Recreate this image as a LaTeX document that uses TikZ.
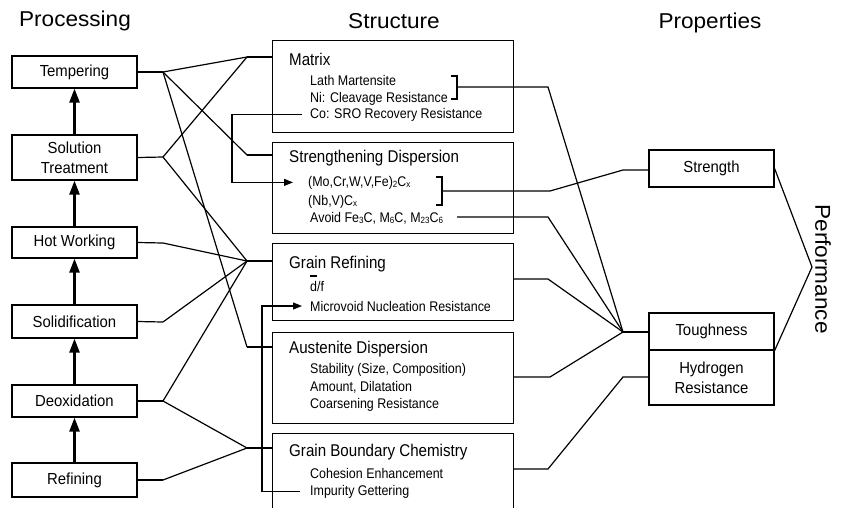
\documentclass[tikz,border=0pt]{standalone}
\usepackage{fontspec}
\setmainfont{Liberation Sans}
\newfontfamily\boxfont{Liberation Sans}[FakeStretch=0.93]
\newfontfamily\strfont{Liberation Sans}[FakeStretch=0.89]
\newfontfamily\headfont{Liberation Sans}[FakeStretch=1.05]
\usetikzlibrary{arrows.meta}
% small lowered indices for chemical formulae
\newcommand\lowsub[1]{\raisebox{-1.5pt}{\fontsize{9}{9}\selectfont #1}}

\begin{document}
\begin{tikzpicture}[x=1pt,y=-1pt,
  conn/.style={line width=1.2pt},
  flowarrow/.style={line width=2.4pt,-{Triangle[length=14pt,width=10pt]}},
  thinarrow/.style={line width=1.2pt,-{Triangle[length=9pt,width=7pt]}},
  heading/.style={anchor=base,inner sep=0pt,font={\headfont\fontsize{21.5}{24}\selectfont}},
  procbox/.style={draw,line width=1.2pt,minimum width=125pt,inner sep=0pt,align=center,
    font={\boxfont\fontsize{16}{20}\selectfont}},
  structbox/.style={draw,line width=1.2pt,minimum width=241pt,inner sep=0pt,anchor=north west},
  sttitle/.style={anchor=base west,inner sep=0pt,font={\strfont\fontsize{17}{20}\selectfont}},
  stitem/.style={anchor=base west,inner sep=0pt,font={\strfont\fontsize{14}{17}\selectfont}}]

\useasboundingbox (0,0) rectangle (843,507);
\clip (0,0) rectangle (843,507);
\fill[white] (0,0) rectangle (843,507);

% column headings
\node[heading] (hproc) at (75,26) {Processing};
\node[heading] (hstr) at (394,28) {Structure};
\node[heading] (hprop) at (710,28) {Properties};
\node[heading,anchor=center,rotate=-90] (hperf) at (823,269) {Performance};

% processing chain
\node[procbox,minimum height=32pt] (temp) at (74.5,72) {Tempering};
\node[procbox,minimum height=45pt] (sol) at (74.5,157.5) {Solution\\Treatment};
\node[procbox,minimum height=31pt] (hot) at (74.5,242.5) {Hot Working};
\node[procbox,minimum height=33pt] (solid) at (74.5,321.5) {Solidification};
\node[procbox,minimum height=32pt] (deox) at (74.5,401) {Deoxidation};
\node[procbox,minimum height=34pt] (ref) at (74.5,480) {Refining};

\draw[flowarrow] (sol.north) -- (temp.south);
\draw[flowarrow] (hot.north) -- (sol.south);
\draw[flowarrow] (solid.north) -- (hot.south);
\draw[flowarrow] (deox.north) -- (solid.south);
\draw[flowarrow] (ref.north) -- (deox.south);

% structure boxes
\node[structbox,minimum height=92pt] (matrix) at (272,40) {};
\node[structbox,minimum height=91pt] (sdisp) at (272,142) {};
\node[structbox,minimum height=77pt] (grain) at (272,243) {};
\node[structbox,minimum height=91pt] (adisp) at (272,332) {};
\node[structbox,minimum height=80pt] (gbc) at (272,433) {};

\node[sttitle] (tmat) at (289,65) {Matrix};
\node[stitem] (lath) at (310,85) {Lath Martensite};
\node[stitem] (ni) at (310,102) {Ni: Cleavage Resistance};
\node[stitem] (co) at (310,118) {Co: SRO Recovery Resistance};

\node[sttitle] (tsd) at (289,162) {Strengthening Dispersion};
\node[stitem] (mo) at (308,186) {(Mo,Cr,W,V,Fe)\lowsub{2}C\lowsub{x}};
\node[stitem] (nb) at (308,205) {(Nb,V)C\lowsub{x}};
\node[stitem] (avoid) at (310,222) {Avoid Fe\lowsub{3}C, M\lowsub{6}C, M\lowsub{23}C\lowsub{6}};

\node[sttitle] (tgr) at (289,268) {Grain Refining};
\node[stitem] (dfr) at (310,291) {\makebox[0pt][l]{\raisebox{14.5pt}{\rule{6.8pt}{1.2pt}}}d/f};
\node[stitem] (micro) at (310,311) {Microvoid Nucleation Resistance};

\node[sttitle] (tad) at (289,353) {Austenite Dispersion};
\node[stitem] (stab) at (310,373) {Stability (Size, Composition)};
\node[stitem] (amount) at (310,391) {Amount, Dilatation};
\node[stitem] (coars) at (310,408) {Coarsening Resistance};

\node[sttitle] (tgb) at (289,456) {Grain Boundary Chemistry};
\node[stitem] (coh) at (310,478) {Cohesion Enhancement};
\node[stitem] (imp) at (310,495) {Impurity Gettering};

% property boxes
\node[procbox,minimum height=37pt] (strength) at (711.5,168.5) {Strength};
\node[procbox,minimum height=37pt] (tough) at (711.5,331.5) {Toughness};
\node[procbox,minimum height=55pt] (hydro) at (711.5,377.5) {Hydrogen\\Resistance};

% junction points, processing to structure
\coordinate (tf) at (163,72);
\coordinate (sf) at (163,157);
\coordinate (hf) at (163,243);
\coordinate (lf) at (163,322);
\coordinate (df) at (163,401);
\coordinate (rf) at (163,480);
\coordinate (mxf) at (247,57);
\coordinate (sdf) at (247,155);
\coordinate (grf) at (247,261);
\coordinate (adf) at (247,347);
\coordinate (gbf) at (247,448);

\draw[conn] (temp.east) -- (tf);
\draw[conn] (sol.east) -- (sf);
\draw[conn] (hot.east) -- (hf);
\draw[conn] (solid.east) -- (lf);
\draw[conn] (deox.east) -- (df);
\draw[conn] (ref.east) -- (rf);

\draw[conn] (tf) -- (mxf);
\draw[conn] (tf) -- (sdf);
\draw[conn] (tf) -- (adf);
\draw[conn] (sf) -- (mxf);
\draw[conn] (sf) -- (grf);
\draw[conn] (hf) -- (grf);
\draw[conn] (lf) -- (grf);
\draw[conn] (df) -- (grf);
\draw[conn] (df) -- (gbf);
\draw[conn] (rf) -- (gbf);

\draw[conn] (mxf) -- (matrix.west |- mxf);
\draw[conn] (sdf) -- (sdisp.west |- sdf);
\draw[conn] (grf) -- (grain.west |- grf);
\draw[conn] (adf) -- (adisp.west |- adf);
\draw[conn] (gbf) -- (gbc.west |- gbf);

% cross links inside the structure column
\coordinate (cox) at (232,113);
\draw[conn,thinarrow] ([xshift=-8pt]co.west) -- (co.west -| cox) -- (cox |- mo.west) -- ([xshift=-15pt]mo.west);
\coordinate (impx) at (262,490);
\draw[conn,thinarrow] ([xshift=-10pt]imp.west) -- (imp.west -| impx) -- (impx |- micro.west) -- ([xshift=-8pt]micro.west);

% brackets
\coordinate (mbrk) at (457,87);
\draw[conn] (451,76) -- (457,76) -- (457,99) -- (451,99);
\coordinate (sbrk) at (442,191);
\draw[conn] (436,177) -- (442,177) -- (442,205) -- (436,205);
\coordinate (avs) at (457,217);

% junction points, structure to properties
\coordinate (mxr) at (548,87);
\coordinate (sdr) at (550,191);
\coordinate (avr) at (548,217);
\coordinate (grr) at (548,279);
\coordinate (aur) at (550,377);
\coordinate (gbr) at (548,469);
\coordinate (sfan) at (623,170);
\coordinate (tfan) at (623,332);
\coordinate (hfan) at (623,377);
\coordinate (perf) at (812,267);

\draw[conn] (mbrk) -- (mxr) -- (tfan);
\draw[conn] (sbrk) -- (sdr) -- (sfan) -- (strength.west |- sfan);
\draw[conn] (avs) -- (avr) -- (tfan);
\draw[conn] (grain.east |- grr) -- (grr) -- (tfan);
\draw[conn] (adisp.east |- aur) -- (aur) -- (tfan);
\draw[conn] (tfan) -- (tough.west |- tfan);
\draw[conn] (gbc.east |- gbr) -- (gbr) -- (hfan) -- (hydro.west |- hfan);

% performance bracket
\draw[conn] (strength.east) -- (perf) -- (tough.south east);
\end{tikzpicture}
\end{document}
